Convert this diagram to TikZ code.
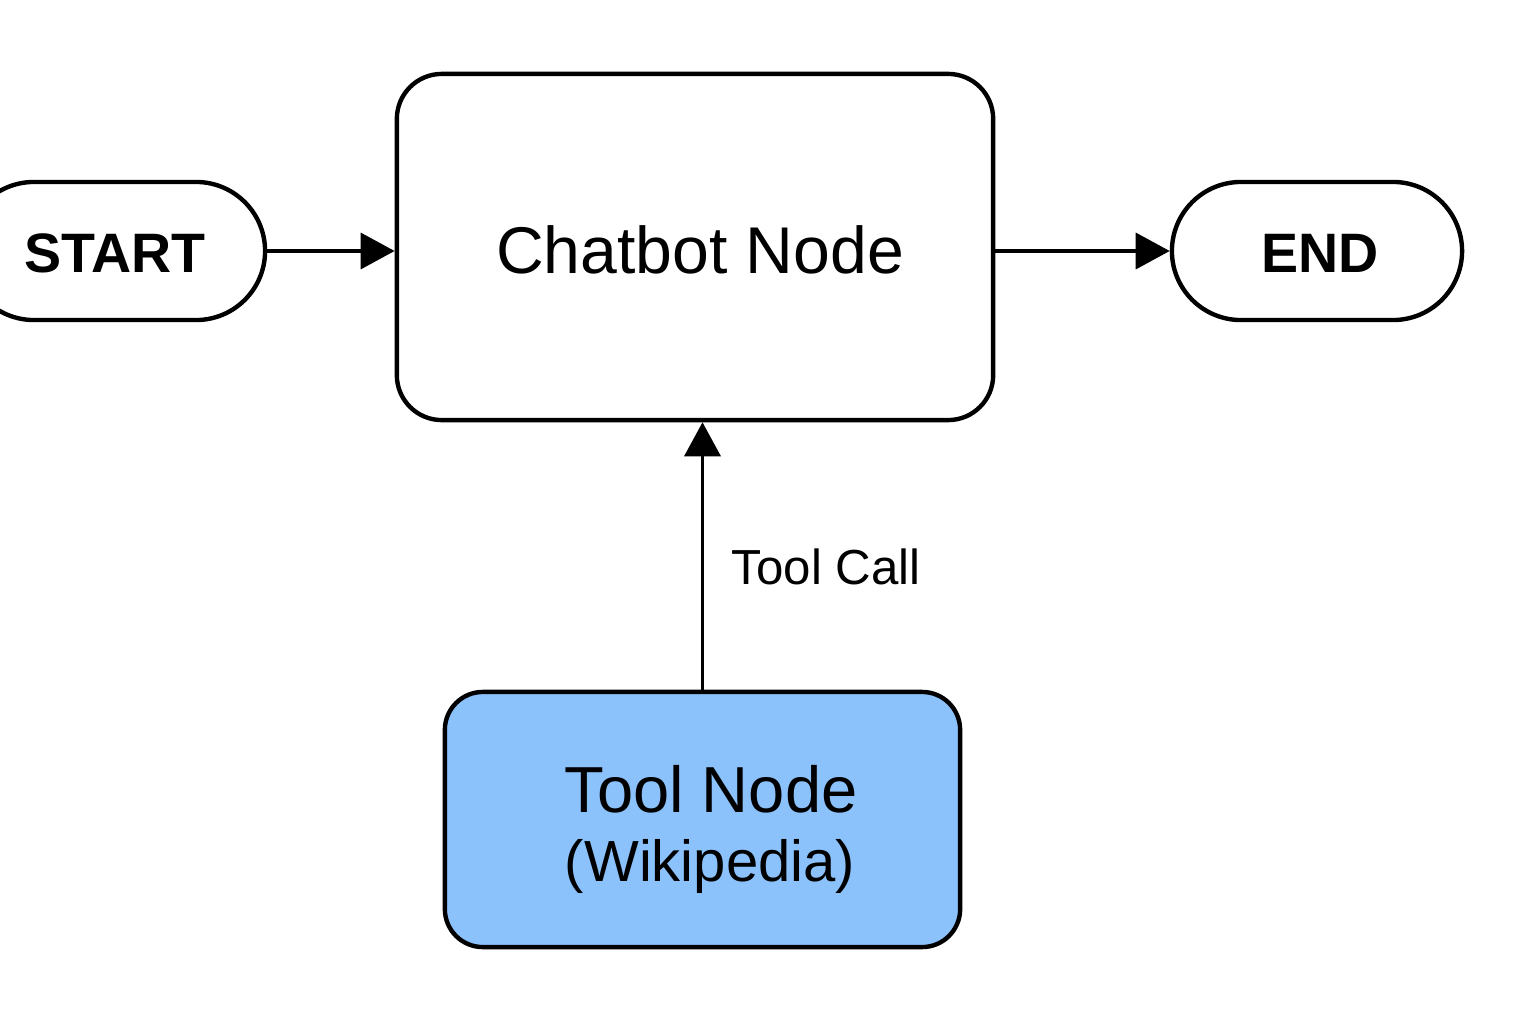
\documentclass[tikz,border=0pt]{standalone}
\usepackage{fontspec}
\setmainfont{Liberation Sans}
\usetikzlibrary{arrows.meta}
\definecolor{toolblue}{HTML}{8CC2FB}
\tikzset{
  box/.style={draw=black, line width=1.25pt, rounded corners=#1, inner sep=0pt},
  conn/.style={draw=black, line width=1.0pt, -{Triangle[length=0.34cm,width=0.36cm]}},
}
\begin{document}
\begin{tikzpicture}[x=0.01cm,y=-0.01cm]
\useasboundingbox (0,0) rectangle (1536,1024);
\node[box=0.69cm, minimum width=3.00cm, minimum height=1.38cm] (start) at (115,251) {};
\node at (115,253) {\fontsize{15.8}{18}\selectfont\bfseries START};
\node[box=0.45cm, minimum width=5.96cm, minimum height=3.46cm] (chat) at (695,247) {};
\node at (700,250) {\fontsize{18.8}{22}\selectfont Chatbot Node};
\node[box=0.69cm, minimum width=2.90cm, minimum height=1.38cm] (end) at (1317,251) {};
\node at (1320,253) {\fontsize{15.8}{18}\selectfont\bfseries END};
\node[box=0.38cm, fill=toolblue, minimum width=5.15cm, minimum height=2.55cm] (tool) at (702.5,819.5) {};
\node at (711,789) {\fontsize{18.5}{22}\selectfont Tool Node};
\node at (710,866) {\fontsize{16.5}{20}\selectfont (Wikipedia)};
\draw[conn] (start.east) -- (chat.west |- start.east);
\draw[conn] (chat.east |- end.west) -- (end.west);
\draw[conn] (tool.north) -- (tool.north |- chat.south);
\node[anchor=west, inner sep=0pt, font=\fontsize{14}{16}\selectfont] (lbl) at (731,567) {Tool Call};
\end{tikzpicture}
\end{document}
